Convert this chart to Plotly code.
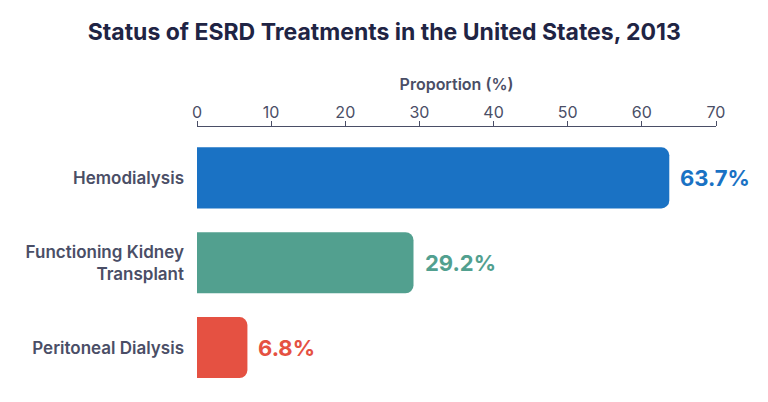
import plotly.graph_objects as go

# data
treatments = ["Hemodialysis", "Functioning Kidney<br>Transplant", "Peritoneal Dialysis"]
proportions = [63.7, 29.2, 6.8]
bar_colors = ["#1a72c4", "#52a08f", "#e55142"]
label_texts = [f"{p}%" for p in proportions]

FONT = "Inter"
INK = "#4a4e66"

# bars start a bit left of 0 so the left corners get clipped (only right end rounded)
offset = 1.5
fig = go.Figure(go.Bar(
    y=treatments,
    x=[p + offset for p in proportions],
    base=-offset,
    orientation="h",
    marker=dict(color=bar_colors, line=dict(width=0)),
    width=0.72,
    hoverinfo="skip",
))

for name, p, c, t in zip(treatments, proportions, bar_colors, label_texts):
    fig.add_annotation(x=p, y=name, text=t, showarrow=False, xanchor="left", xshift=9,
                       font=dict(family=FONT, size=22, color=c, weight=700))

# page body has an 8px margin, so everything is nudged up/left by 8
fig.update_layout(
    width=768, height=402,
    margin=dict(l=189, r=60, t=119, b=20),
    paper_bgcolor="white", plot_bgcolor="white",
    barcornerradius=8,
    showlegend=False,
    title=dict(text="Status of ESRD Treatments in the United States, 2013", x=0.49, xanchor="center",
               y=0.94, yanchor="middle",
               font=dict(family=FONT, size=23, color="#1f2444", weight=700)),
    font=dict(family=FONT, color=INK),
)
fig.update_xaxes(side="top", range=[0, 70], dtick=10, showgrid=False, zeroline=False, automargin=False,
                 showline=True, linecolor=INK, linewidth=1.2,
                 ticks="outside", ticklen=5, tickcolor=INK, tickwidth=1.2,
                 ticklabelstandoff=-3,
                 tickfont=dict(family=FONT, size=16, color=INK),
                 title=dict(text="Proportion (%)", standoff=6,
                            font=dict(family=FONT, size=16, color=INK, weight=600)))
fig.update_yaxes(range=[2.5, -0.6], showgrid=False, zeroline=False, showline=False, ticks="",
                 ticklabelstandoff=12, automargin=False,
                 tickfont=dict(family=FONT, size=17, color=INK, weight=600))

fig.write_html("out.html")
